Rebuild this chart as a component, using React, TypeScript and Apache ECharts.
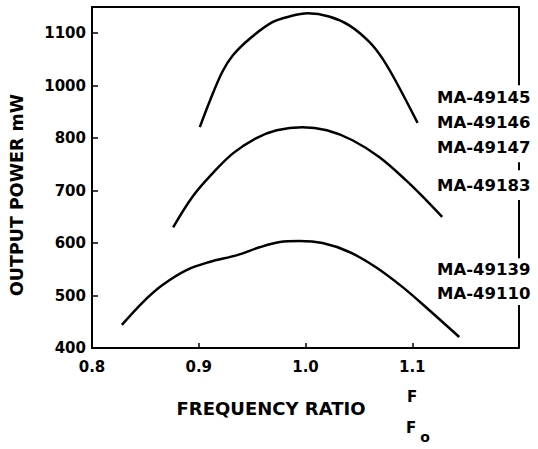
import React, { useEffect, useRef } from "react";
import * as echarts from "echarts";

// Y tick labels (the axis is compressed: 800 -> 1000 spans one step)
const yTickLabels = ["400", "500", "600", "700", "800", "1000", "1100"];
const yBreaks = [400, 500, 600, 700, 800, 1000, 1100, 1200];

// Curves: [frequency ratio, output power mW]
const curveTop: [number, number][] = [
  [0.901, 842], [0.91, 938], [0.922, 1026], [0.932, 1058], [0.948, 1090],
  [0.969, 1121], [0.985, 1132], [1.002, 1138], [1.022, 1132], [1.041, 1115],
  [1.06, 1083], [1.072, 1052], [1.085, 1007], [1.105, 858],
];
const curveMid: [number, number][] = [
  [0.876, 630], [0.894, 688], [0.913, 733], [0.932, 771], [0.954, 800],
  [0.973, 830], [0.997, 842], [1.02, 830], [1.044, 796], [1.069, 764],
  [1.094, 720], [1.113, 682], [1.128, 650],
];
const curveLow: [number, number][] = [
  [0.828, 444], [0.848, 488], [0.866, 520], [0.889, 549], [0.91, 564],
  [0.936, 577], [0.957, 592], [0.976, 602], [0.994, 604], [1.016, 600],
  [1.041, 583], [1.066, 554], [1.091, 516], [1.116, 472], [1.144, 421],
];

// Device labels along the right edge (mW level where each sits)
const deviceNames = ["MA-49145", "MA-49146", "MA-49147", "MA-49183", "MA-49139", "MA-49110"];
const deviceLevels = [954, 860, 782, 709, 550, 503];

// Right frame segments (mW), broken where labels sit
const frameSegments: [number, number][] = [
  [1150, 1001], [754, 739], [682, 571], [482, 400],
];

const xTickValues = [0.8, 0.9, 1.0, 1.1];

// piecewise map of mW onto the compressed axis position
function toPos(mw: number): number {
  for (let i = 0; i < yBreaks.length - 1; i++) {
    const a = yBreaks[i], b = yBreaks[i + 1];
    if (mw <= b || i === yBreaks.length - 2) {
      return i + (mw - a) / (b - a);
    }
  }
  return 0;
}

const FONT = "DejaVu Sans";

export default function App() {
  const ref = useRef<HTMLDivElement>(null);
  useEffect(() => {
    if (!ref.current) return;
    const chart = echarts.init(ref.current, undefined, { renderer: "svg" });
    const mk = (arr: [number, number][]) => arr.map(([x, y]) => [x, toPos(y)]);
    const curveStyle = { color: "#000", width: 2.5 };
    chart.setOption({
      animation: false,
      backgroundColor: "#fff",
      grid: { left: 92, right: 19, top: 7, bottom: 101 },
      xAxis: [
        {
          type: "value",
          min: 0.8,
          max: 1.2,
          interval: 0.1,
          splitLine: { show: false },
          axisLine: { lineStyle: { color: "#000", width: 2 } },
          axisTick: { inside: true, length: 5, lineStyle: { color: "#000", width: 1.5 } },
          axisLabel: {
            color: "#000",
            fontFamily: FONT,
            fontWeight: "bold",
            fontSize: 15,
            margin: 11,
            formatter: (v: number) => {
              const t = xTickValues.find((x) => Math.abs(x - v) < 1e-6);
              return t === undefined ? "" : t.toFixed(1);
            },
          },
        },
        {
          type: "value",
          position: "top",
          min: 0.8,
          max: 1.2,
          splitLine: { show: false },
          axisLine: { show: true, lineStyle: { color: "#000", width: 2 } },
          axisTick: { show: false },
          axisLabel: { show: false },
        },
      ],
      yAxis: {
        type: "value",
        min: 0,
        max: 6.5,
        interval: 1,
        splitLine: { show: false },
        axisLine: { show: true, lineStyle: { color: "#000", width: 2 } },
        axisTick: { inside: true, length: 6, lineStyle: { color: "#000", width: 1.5 } },
        axisLabel: {
          color: "#000",
          fontFamily: FONT,
          fontWeight: "bold",
          fontSize: 15,
          margin: 6,
          formatter: (v: number) => {
            const i = Math.round(v);
            return Math.abs(v - i) < 1e-6 && yTickLabels[i] !== undefined ? yTickLabels[i] : "";
          },
        },
      },
      series: [
        { type: "line", data: mk(curveTop), smooth: 0.35, showSymbol: false, lineStyle: curveStyle, silent: true },
        { type: "line", data: mk(curveMid), smooth: 0.35, showSymbol: false, lineStyle: curveStyle, silent: true },
        { type: "line", data: mk(curveLow), smooth: 0.35, showSymbol: false, lineStyle: curveStyle, silent: true },
        {
          type: "scatter",
          symbolSize: 0,
          clip: false,
          silent: true,
          itemStyle: { color: "#000", opacity: 1 },
          data: deviceNames.map((n, i) => ({ name: n, value: [1.167, toPos(deviceLevels[i])] })),
          label: {
            show: true,
            position: "inside",
            formatter: "{b}",
            color: "#000",
            opacity: 1,
            textBorderWidth: 0,
            fontFamily: FONT,
            fontWeight: "bold",
            fontSize: 16.5,
          },
        },
      ],
      graphic: [
        {
          type: "text",
          x: 17,
          y: 195,
          rotation: Math.PI / 2,
          style: {
            text: "OUTPUT POWER mW",
            align: "center",
            verticalAlign: "middle",
            fill: "#000",
            font: `bold 17.5px "${FONT}"`,
          },
        },
        {
          type: "text",
          x: 271,
          y: 408,
          style: {
            text: "FREQUENCY RATIO",
            align: "center",
            verticalAlign: "middle",
            fill: "#000",
            font: `bold 18px "${FONT}"`,
          },
        },
        {
          type: "text",
          x: 412,
          y: 397,
          style: { text: "F", align: "center", verticalAlign: "middle", fill: "#000", font: `bold 15px "${FONT}"` },
        },
        {
          type: "text",
          x: 411,
          y: 428,
          style: { text: "F", align: "center", verticalAlign: "middle", fill: "#000", font: `bold 15px "${FONT}"` },
        },
        {
          type: "text",
          x: 425,
          y: 437,
          style: { text: "o", align: "center", verticalAlign: "middle", fill: "#000", font: `bold 14px "${FONT}"` },
        },
      ],
    });
    // right frame, broken where the device labels sit (positions via the chart's own scales)
    const frameLines = frameSegments.map(([a, b], i) => {
      const p1 = chart.convertToPixel({ gridIndex: 0 }, [1.2, toPos(a)]) as number[];
      const p2 = chart.convertToPixel({ gridIndex: 0 }, [1.2, toPos(b)]) as number[];
      return {
        type: "line",
        id: "frame" + i,
        z: 10,
        shape: { x1: p1[0], y1: p1[1], x2: p2[0], y2: p2[1] },
        style: { stroke: "#000", lineWidth: 2 },
        silent: true,
      };
    });
    chart.setOption({ graphic: frameLines });
    return () => chart.dispose();
  }, []);
  return (
    <div
      ref={ref}
      style={{ position: "fixed", left: 0, top: 0, width: 538, height: 449, background: "#fff" }}
    />
  );
}
